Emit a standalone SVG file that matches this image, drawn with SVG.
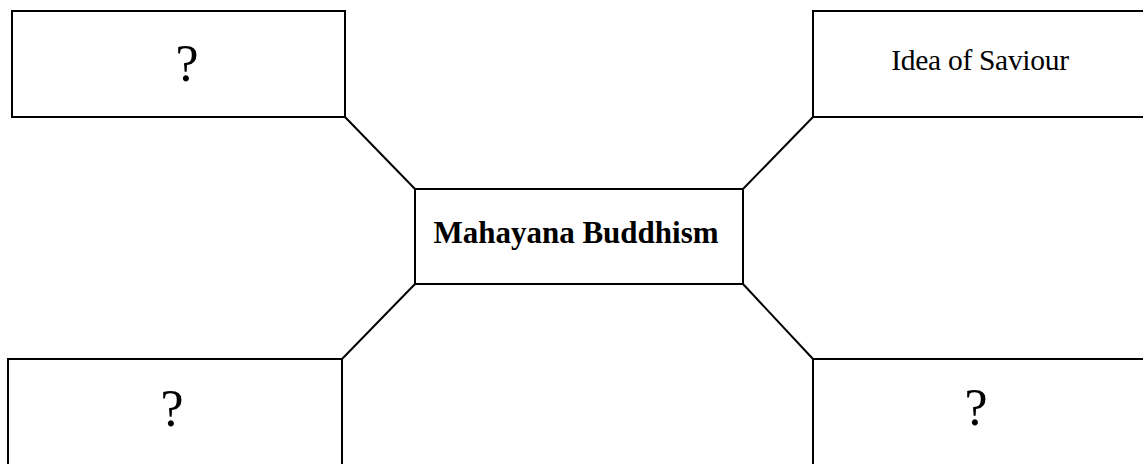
<svg xmlns="http://www.w3.org/2000/svg" width="1143" height="464" viewBox="0 0 1143 464">
<style>
.box{fill:#fff;stroke:#000;stroke-width:2}
.ln{stroke:#000;stroke-width:2;fill:none}
.q{font-family:"Liberation Serif",serif;font-size:52px;fill:#000;text-anchor:middle}
.t{font-family:"Liberation Serif",serif;font-size:29.5px;fill:#000;text-anchor:middle;letter-spacing:-0.3px}
.b{font-family:"Liberation Serif",serif;font-size:31px;font-weight:bold;fill:#000;text-anchor:middle}
</style>
<rect width="1143" height="464" fill="#fff"/>
<g id="connectors">
<line class="ln" x1="345" y1="117" x2="415" y2="189"/>
<line class="ln" x1="743" y1="189" x2="813" y2="117"/>
<line class="ln" x1="342" y1="359" x2="415" y2="284"/>
<line class="ln" x1="743" y1="284" x2="813" y2="359"/>
</g>
<g id="center">
<rect class="box" x="415" y="189" width="328" height="95"/>
<text class="b" x="576" y="243">Mahayana Buddhism</text>
</g>
<g id="topleft">
<rect class="box" x="12" y="11" width="333" height="106"/>
<text class="q" x="187" y="81">?</text>
</g>
<g id="topright">
<rect class="box" x="813" y="11" width="340" height="106"/>
<text class="t" x="980" y="70">Idea of Saviour</text>
</g>
<g id="bottomleft">
<rect class="box" x="8" y="359" width="334" height="120"/>
<text class="q" x="172" y="426">?</text>
</g>
<g id="bottomright">
<rect class="box" x="813" y="359" width="340" height="120"/>
<text class="q" x="976" y="425">?</text>
</g>
</svg>
